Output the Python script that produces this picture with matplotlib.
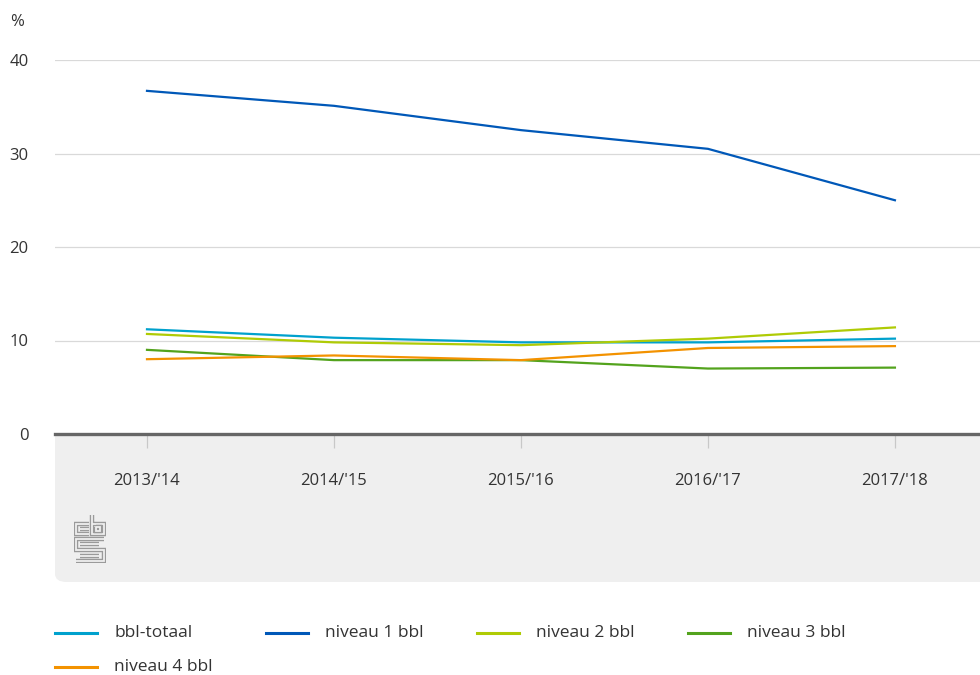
import matplotlib
matplotlib.use("Agg")
import matplotlib.pyplot as plt
from matplotlib.lines import Line2D
from matplotlib.patches import FancyBboxPatch

plt.rcParams['font.family'] = ['Open Sans', 'DejaVu Sans']

# ---- data ----
categories = ["2013/'14", "2014/'15", "2015/'16", "2016/'17", "2017/'18"]
series_names = ["bbl-totaal", "niveau 1 bbl", "niveau 2 bbl", "niveau 3 bbl", "niveau 4 bbl"]
bbl_totaal = [11.2, 10.3, 9.8, 9.8, 10.2]
niveau_1 = [36.7, 35.1, 32.5, 30.5, 25.0]
niveau_2 = [10.7, 9.8, 9.5, 10.2, 11.4]
niveau_3 = [9.0, 7.9, 7.9, 7.0, 7.1]
niveau_4 = [8.0, 8.4, 7.9, 9.2, 9.4]
y_ticks = [0, 10, 20, 30, 40]
colors = ["#00a1cd", "#0058b8", "#afcb05", "#53a31d", "#f39200"]
series = [bbl_totaal, niveau_1, niveau_2, niveau_3, niveau_4]

W, H = 980, 675
fig = plt.figure(figsize=(W / 100, H / 100), dpi=100)
fig.patch.set_facecolor("white")

def fx(px):
    return px / W

def fy(py):
    return 1 - py / H

# grey panel below axis (rounded bottom-left corner)
panel = FancyBboxPatch((fx(55), fy(582)), fx(1100) - fx(55), fy(400) - fy(582),
                       boxstyle="round,pad=0,rounding_size=0.012",
                       transform=fig.transFigure, facecolor="#efefef",
                       edgecolor="none", zorder=-1)
fig.patches.append(panel)

ax = fig.add_axes([fx(55), fy(434), fx(980) - fx(55), fy(60) - fy(434)])
ax.set_facecolor("white")
x = list(range(len(categories)))
for name, vals, c in zip(series_names, series, colors):
    ax.plot(x, vals, color=c, linewidth=1.6, label=name, solid_joinstyle="round", zorder=3)

ax.set_xlim(-0.492, 4.455)
ax.set_ylim(0, 40)
ax.set_yticks(y_ticks)
ax.set_yticklabels([str(v) for v in y_ticks])
ax.set_xticks(x)
ax.set_xticklabels(categories)

ax.grid(axis="y", color="#d9d9d9", linewidth=0.9, zorder=1)
ax.grid(axis="x", visible=False)
for s in ["top", "right", "left"]:
    ax.spines[s].set_visible(False)
ax.spines["bottom"].set_color("#666666")
ax.spines["bottom"].set_linewidth(2.4)
ax.spines["bottom"].set_zorder(4)

ax.tick_params(axis="y", length=0, pad=19, labelsize=12, labelcolor="#333333")
for lab in ax.get_yticklabels():
    lab.set_horizontalalignment("right")
ax.tick_params(axis="x", length=10, width=0.9, color="#c8c8c8", direction="out",
               pad=18, labelsize=12, labelcolor="#333333")

fig.text(fx(10), fy(22), "%", fontsize=12, color="#333333", ha="left", va="center")

# CBS logo (decorative)
lax = fig.add_axes([fx(74), fy(563), fx(106) - fx(74), fy(514) - fy(563)])
lax.set_xlim(-0.5, 31.8)
lax.set_ylim(49, -0.5)
lax.axis("off")
lax.patch.set_alpha(0)
logo_paths = [
    ([14.7, 1.5, 1.5, 14.7], [10, 10, 20, 20]),
    ([6, 14.7], [15, 15]),
    ([17.5, 17.5, 29.8, 29.8, 17.5], [0.5, 20, 20, 10, 10]),
    ([21.8, 25.6, 25.6, 21.8, 21.8], [13, 13, 17, 17, 13]),
    ([29.8, 1.5, 1.5, 29.8, 29.8, 1.5], [24.5, 24.5, 35.5, 35.5, 47, 47]),
    ([25, 6], [30, 30]),
    ([6, 25], [41.5, 41.5]),
]
for px_, py_ in logo_paths:
    lax.plot(px_, py_, color="#9a9a9a", linewidth=3.2, solid_joinstyle="miter", solid_capstyle="butt")
    lax.plot(px_, py_, color="#efefef", linewidth=1.3, solid_joinstyle="miter", solid_capstyle="butt")

# legend (manual, evenly spaced columns)
for i, (name, c) in enumerate(zip(series_names, colors)):
    col, row = i % 4, i // 4
    x0 = 55 + 211 * col
    yy = 633 + 34 * row
    fig.add_artist(Line2D([fx(x0), fx(x0 + 42)], [fy(yy), fy(yy)], color=c,
                          linewidth=2.2, transform=fig.transFigure))
    fig.text(fx(x0 + 59), fy(yy), name, fontsize=12.5, color="#333333",
             ha="left", va="center")

fig.savefig("out.png", dpi=100)
